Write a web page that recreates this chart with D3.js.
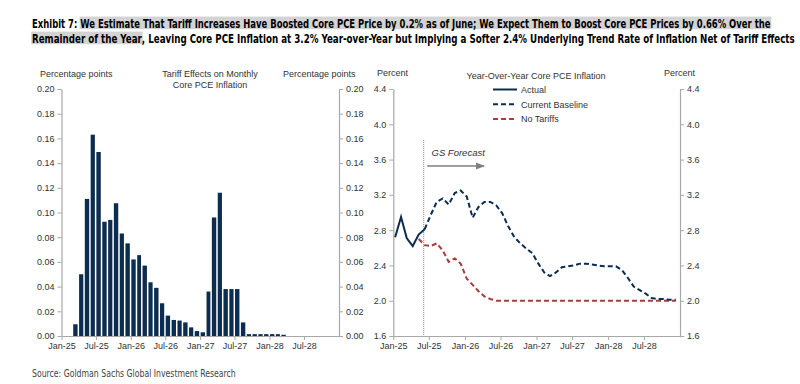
<!DOCTYPE html>
<html>
<head>
<meta charset="utf-8">
<script src="https://cdn.jsdelivr.net/npm/d3@7/dist/d3.min.js"></script>
<style>
  html, body { margin: 0; padding: 0; background: #ffffff; }
  svg { display: block; }
  .tick text { font-family: "Liberation Sans", Arial, sans-serif; font-size: 9px; fill: #333; }
  .lbl { font-family: "Liberation Sans", Arial, sans-serif; font-size: 9px; fill: #333; }
</style>
</head>
<body>
<svg id="chart" width="800" height="384"></svg>
<script>
// ---------- DATA ----------
const titleLine1Lead = "Exhibit 7: ";
const titleLine1Hi = "We Estimate That Tariff Increases Have Boosted Core PCE Price by 0.2% as of June; We Expect Them to Boost Core PCE Prices by 0.66% Over the";
const titleLine2Hi = "Remainder of the Year";
const titleLine2Rest = ", Leaving Core PCE Inflation at 3.2% Year-over-Year but Implying a Softer 2.4% Underlying Trend Rate of Inflation Net of Tariff Effects";
const sourceText = "Source: Goldman Sachs Global Investment Research";

// Left panel: tariff effects on monthly core PCE inflation (pp)
const barMonths = ["Mar-25","Apr-25","May-25","Jun-25","Jul-25","Aug-25","Sep-25","Oct-25","Nov-25","Dec-25",
  "Jan-26","Feb-26","Mar-26","Apr-26","May-26","Jun-26","Jul-26","Aug-26","Sep-26","Oct-26","Nov-26","Dec-26",
  "Jan-27","Feb-27","Mar-27","Apr-27","May-27","Jun-27","Jul-27","Aug-27","Sep-27","Oct-27","Nov-27","Dec-27",
  "Jan-28","Feb-28","Mar-28"];
const tariffEffect = [0.0095,0.050,0.111,0.163,0.149,0.0925,0.094,0.1075,0.083,0.075,
  0.062,0.0655,0.057,0.0435,0.039,0.0265,0.0165,0.013,0.0125,0.011,0.007,0.004,
  0.003,0.036,0.096,0.116,0.038,0.038,0.038,0.011,0.0015,0.0015,0.0015,0.0015,
  0.0015,0.0015,0.001];
const leftYTicks = [0,0.02,0.04,0.06,0.08,0.10,0.12,0.14,0.16,0.18,0.20];

// Right panel: year-over-year core PCE inflation (%)
const actualMonths = ["Jan-25","Feb-25","Mar-25","Apr-25","May-25","Jun-25"];
const actualValues = [2.72,2.95,2.71,2.62,2.75,2.81];

const baselineMonths = ["Jun-25","Jul-25","Aug-25","Sep-25","Oct-25","Nov-25","Dec-25",
  "Jan-26","Feb-26","Mar-26","Apr-26","May-26","Jun-26","Jul-26","Aug-26","Sep-26","Oct-26","Nov-26","Dec-26",
  "Jan-27","Feb-27","Mar-27","Apr-27","May-27","Jun-27","Jul-27","Aug-27","Sep-27","Oct-27","Nov-27","Dec-27",
  "Jan-28","Feb-28","Mar-28","Apr-28","May-28","Jun-28","Jul-28","Aug-28","Sep-28","Oct-28","Nov-28","Dec-28"];
const baselineValues = [2.81,2.97,3.12,3.16,3.09,3.22,3.25,
  3.18,2.94,3.06,3.12,3.12,3.08,2.99,2.84,2.72,2.65,2.59,2.54,
  2.42,2.32,2.28,2.32,2.38,2.39,2.40,2.42,2.42,2.41,2.40,2.39,
  2.39,2.39,2.35,2.26,2.16,2.12,2.08,2.03,2.02,2.02,2.01,2.01];

const noTariffMonths = ["May-25","Jun-25","Jul-25","Aug-25","Sep-25","Oct-25","Nov-25","Dec-25",
  "Jan-26","Feb-26","Mar-26","Apr-26","May-26","Jun-26","Jul-26","Aug-26","Sep-26","Oct-26","Nov-26","Dec-26",
  "Jan-27","Feb-27","Mar-27","Apr-27","May-27","Jun-27","Jul-27","Aug-27","Sep-27","Oct-27","Nov-27","Dec-27",
  "Jan-28","Feb-28","Mar-28","Apr-28","May-28","Jun-28","Jul-28","Aug-28","Sep-28","Oct-28","Nov-28","Dec-28"];
const noTariffValues = [2.70,2.63,2.62,2.65,2.57,2.44,2.48,2.42,
  2.25,2.18,2.11,2.05,2.02,2.00,2.00,2.00,2.00,2.00,2.00,2.00,
  2.00,2.00,2.00,2.00,2.00,2.00,2.00,2.00,2.00,2.00,2.00,2.00,
  2.00,2.00,2.00,2.00,2.00,2.00,2.00,2.00,2.00,2.00,2.00,2.00];
const rightYTicks = [1.6,2.0,2.4,2.8,3.2,3.6,4.0,4.4];

const xTickLabels = ["Jan-25","Jul-25","Jan-26","Jul-26","Jan-27","Jul-27","Jan-28","Jul-28"];
const xDomainLabels = ["Jan-25","Jan-29"];
const forecastStartMonth = "Jun-25";

const seriesNames = ["Actual","Current Baseline","No Tariffs"];

// ---------- STYLE ----------
const NAVY = "#0d2d50";
const RED = "#a93d3d";
const AXIS = "#a8a8a8";
const parseM = d3.timeParse("%b-%y");
const fmtM = d3.timeFormat("%b-%y");

const svg = d3.select("#chart");

// ---------- TITLE ----------
function fittedLine(y, parts, x0, targetW, fontSize, weight, hiColor) {
  const g = svg.append("g");
  const t = g.append("text")
    .attr("x", 0).attr("y", 0)
    .style("font-family", '"Liberation Sans Narrow","DejaVu Sans Condensed","Liberation Sans",Arial,sans-serif')
    .style("font-size", fontSize + "px")
    .style("font-weight", weight)
    .attr("fill", "#000");
  parts.forEach(p => t.append("tspan").text(p.text).attr("fill", p.color || "#000"));
  const node = t.node();
  const W = node.getComputedTextLength();
  const sx = targetW / W;
  g.attr("transform", `translate(${x0},${y}) scale(${sx},1)`);
  // highlights
  let idx = 0;
  parts.forEach(p => {
    if (p.hi) {
      const start = idx === 0 ? 0 : node.getSubStringLength(0, idx);
      const len = node.getSubStringLength(idx, p.text.length);
      g.insert("rect", "text")
        .attr("x", start - 1).attr("y", -fontSize * 0.95)
        .attr("width", len + 2).attr("height", fontSize * 1.1)
        .attr("fill", hiColor);
    }
    idx += p.text.length;
  });
  return g;
}
fittedLine(27.5, [{text: titleLine1Lead}, {text: titleLine1Hi, hi: true}], 32, 739, 11.5, "bold", "#d3d3d3");
fittedLine(42.5, [{text: titleLine2Hi, hi: true}, {text: titleLine2Rest}], 32, 762, 11.5, "bold", "#d3d3d3");

// source
fittedLine(376.5, [{text: sourceText, color: "#444"}], 32, 204, 10, "normal", "none");

// ---------- LEFT PANEL ----------
const xDom = xDomainLabels.map(parseM);
const xL = d3.scaleTime().domain(xDom).range([61.5, 339]);
const yL = d3.scaleLinear().domain([0, 0.2]).range([336, 89]);

const gL = svg.append("g");
function styleAxis(sel) {
  sel.select(".domain").attr("stroke", AXIS).attr("stroke-width", 1.2);
  sel.selectAll(".tick line").attr("stroke", AXIS);
}
gL.append("g").attr("transform", "translate(61.5,0)")
  .call(d3.axisLeft(yL).tickValues(leftYTicks).tickFormat(d3.format(".2f")).tickSize(4).tickSizeOuter(0))
  .call(styleAxis);
gL.append("g").attr("transform", "translate(339,0)")
  .call(d3.axisRight(yL).tickValues(leftYTicks).tickFormat(d3.format(".2f")).tickSize(4).tickSizeOuter(0))
  .call(styleAxis);

const barsData = barMonths.map((m, i) => ({date: parseM(m), v: tariffEffect[i]}));
gL.append("g").selectAll("rect").data(barsData).join("rect")
  .attr("x", d => xL(d.date) + 0.5)
  .attr("width", d => xL(d3.timeMonth.offset(d.date, 1)) - xL(d.date) - 1.5)
  .attr("y", d => yL(d.v))
  .attr("height", d => yL(0) - yL(d.v))
  .attr("fill", NAVY);

gL.append("g").attr("transform", "translate(0,336)")
  .call(d3.axisBottom(xL).tickValues(xTickLabels.map(parseM)).tickFormat(fmtM).tickSize(4).tickSizeOuter(0))
  .call(styleAxis);

gL.append("text").attr("class", "lbl").attr("x", 40).attr("y", 77).text("Percentage points");
gL.append("text").attr("class", "lbl").attr("x", 283).attr("y", 77).text("Percentage points");
gL.append("text").attr("class", "lbl").attr("x", 210).attr("y", 77).attr("text-anchor", "middle").text("Tariff Effects on Monthly");
gL.append("text").attr("class", "lbl").attr("x", 210).attr("y", 87.5).attr("text-anchor", "middle").text("Core PCE Inflation");

// ---------- RIGHT PANEL ----------
const xR = d3.scaleTime().domain(xDom).range([393.3, 680]);
const yR = d3.scaleLinear().domain([1.6, 4.4]).range([336, 89]);
const gR = svg.append("g");

gR.append("g").attr("transform", "translate(393.3,0)")
  .call(d3.axisLeft(yR).tickValues(rightYTicks).tickFormat(d3.format(".1f")).tickSize(4).tickSizeOuter(0))
  .call(styleAxis);
gR.append("g").attr("transform", "translate(680,0)")
  .call(d3.axisRight(yR).tickValues(rightYTicks).tickFormat(d3.format(".1f")).tickSize(4).tickSizeOuter(0))
  .call(styleAxis);
gR.append("g").attr("transform", "translate(0,336)")
  .call(d3.axisBottom(xR).tickValues(xTickLabels.map(parseM)).tickFormat(fmtM).tickSize(4).tickSizeOuter(0))
  .call(styleAxis);

const pointOffset = 0.3; // fraction of a month
const px = d => xR(d) + pointOffset * (xR(d3.timeMonth.offset(d, 1)) - xR(d));
const line = d3.line().x(d => px(d.date)).y(d => yR(d.v));
const mk = (months, vals) => months.map((m, i) => ({date: parseM(m), v: vals[i]}));

// forecast marker
const fDate = parseM(forecastStartMonth);
gR.append("line").attr("x1", px(fDate) - 1).attr("x2", px(fDate) - 1)
  .attr("y1", 140).attr("y2", 336)
  .attr("stroke", "#8a8a8a").attr("stroke-width", 1).attr("stroke-dasharray", "1,1");
svg.append("defs").append("marker").attr("id", "arr")
  .attr("viewBox", "0 0 10 10").attr("refX", 9).attr("refY", 5)
  .attr("markerWidth", 7).attr("markerHeight", 7).attr("orient", "auto")
  .append("path").attr("d", "M0,1 L10,5 L0,9 Z").attr("fill", "#7f7f7f");
gR.append("line").attr("x1", px(fDate) + 2.5).attr("x2", 484).attr("y1", 166).attr("y2", 166)
  .attr("stroke", "#7f7f7f").attr("stroke-width", 1.3).attr("marker-end", "url(#arr)");
gR.append("text").attr("class", "lbl").attr("x", 431.5).attr("y", 156)
  .style("font-style", "italic").style("font-size", "9.5px").attr("fill", "#444").text("GS Forecast");

gR.append("path").datum(mk(noTariffMonths, noTariffValues)).attr("d", line)
  .attr("fill", "none").attr("stroke", RED).attr("stroke-width", 2).attr("stroke-dasharray", "5,3");
gR.append("path").datum(mk(baselineMonths, baselineValues)).attr("d", line)
  .attr("fill", "none").attr("stroke", NAVY).attr("stroke-width", 2).attr("stroke-dasharray", "5,3");
gR.append("path").datum(mk(actualMonths, actualValues)).attr("d", line)
  .attr("fill", "none").attr("stroke", NAVY).attr("stroke-width", 2);

gR.append("text").attr("class", "lbl").attr("x", 377).attr("y", 76).text("Percent");
gR.append("text").attr("class", "lbl").attr("x", 664).attr("y", 76).text("Percent");
gR.append("text").attr("class", "lbl").attr("x", 536).attr("y", 79).attr("text-anchor", "middle").text("Year-Over-Year  Core PCE Inflation");

// legend
const legendStyles = [
  {color: NAVY, dash: null},
  {color: NAVY, dash: "5,3"},
  {color: RED, dash: "5,3"}
];
const lg = gR.append("g").selectAll("g").data(seriesNames).join("g")
  .attr("transform", (d, i) => `translate(493,${89.5 + i * 14.8})`);
lg.append("line").attr("x1", 0).attr("x2", 24).attr("y1", 0).attr("y2", 0)
  .attr("stroke", (d, i) => legendStyles[i].color).attr("stroke-width", 2)
  .attr("stroke-dasharray", (d, i) => legendStyles[i].dash);
lg.append("text").attr("class", "lbl").attr("x", 28).attr("y", 3.3).text(d => d);
</script>
</body>
</html>
